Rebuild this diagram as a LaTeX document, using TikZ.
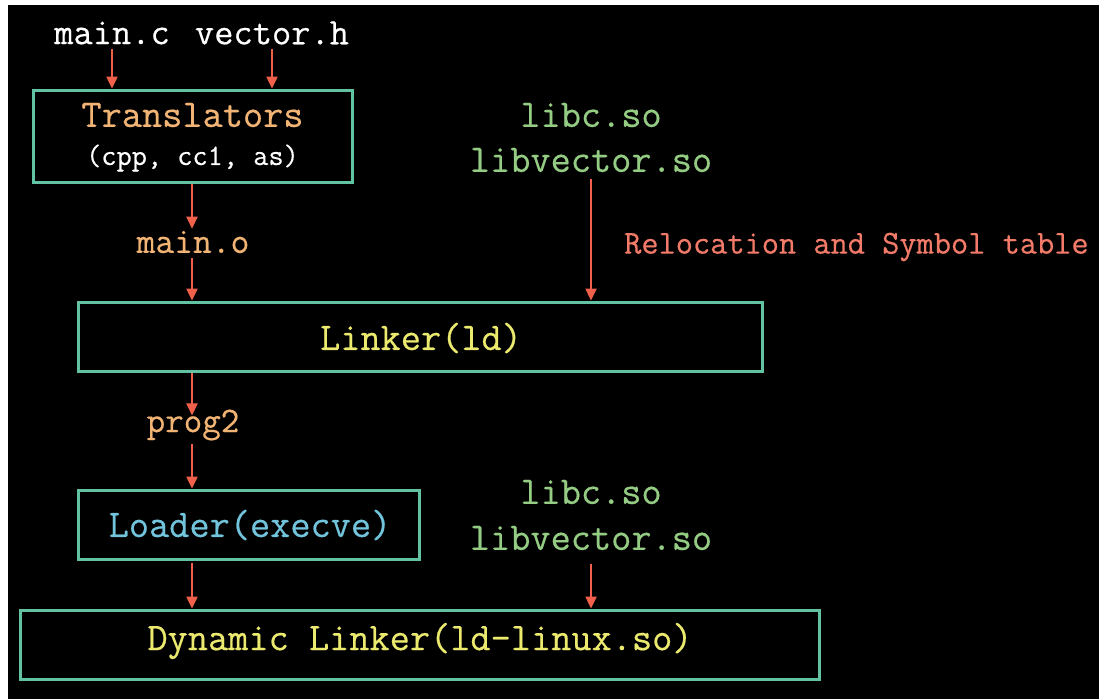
\documentclass[tikz,border=0pt]{standalone}
\usepackage{fontspec}
\usetikzlibrary{arrows.meta}
\newfontfamily\slabmono[FakeBold=0.45]{Latin Modern Mono}
\definecolor{boxline}{HTML}{62C2A4}
\definecolor{arrowred}{HTML}{F0604A}
\definecolor{txtorange}{HTML}{F2B474}
\definecolor{txtgreen}{HTML}{94CC84}
\definecolor{txtyellow}{HTML}{ECEA6E}
\definecolor{txtblue}{HTML}{72C4DC}
\definecolor{txtred}{HTML}{F27A68}
\newcommand{\fs}[1]{\slabmono\fontsize{#1}{#1}\selectfont}
\tikzset{
  x=1pt, y=1pt,
  stagebox/.style={draw=boxline, line width=3pt, inner sep=0pt, fill=black},
  lbl/.style={inner sep=0pt, font=\fs{39.2}},
  flow/.style={draw=arrowred, line width=2.4pt, -{Triangle[length=12pt,width=11pt]}},
}
\begin{document}
\begin{tikzpicture}
\useasboundingbox (0,0) rectangle (1099,-699);
\fill[white] (0,0) rectangle (1099,-699);
\fill[black] (8,-5) rectangle (1099,-699);

% source files
\node[lbl, white, font=\fs{37.4}] (mainc) at (112,-33) {main.c};
\node[lbl, white, font=\fs{37.4}] (vech) at (272,-33) {vector.h};

% translators
\node[stagebox, minimum width=319pt, minimum height=92pt] (tr) at (192.5,-136) {};
\node[lbl, txtorange] (trname) at (192.5,-115) {Translators};
\node[lbl, white, font=\fs{29.5}] (trsub) at (192.5,-158) {(cpp, cc1, as)};

\node[lbl, txtorange, font=\fs{36.5}] (maino) at (193,-242) {main.o};

% shared libraries for the static link
\node[lbl, txtgreen] (libc1) at (591,-115) {libc.so};
\node[lbl, txtgreen] (libv1) at (591,-160) {libvector.so};
\node[lbl, txtred, font=\fs{33.4}, anchor=west] (reloc) at (624,-247) {Relocation and Symbol table};

% linker
\node[stagebox, minimum width=684pt, minimum height=69pt] (ld) at (420,-336.5) {};
\node[lbl, txtyellow] (ldname) at (421,-338) {Linker(ld)};

\node[lbl, txtorange, font=\fs{36}] (prog) at (193,-425) {prog2};

% loader
\node[stagebox, minimum width=341pt, minimum height=69pt] (loader) at (248.5,-524.5) {};
\node[lbl, txtblue] (loadername) at (250,-525) {Loader(execve)};

\node[lbl, txtgreen] (libc2) at (591,-492) {libc.so};
\node[lbl, txtgreen] (libv2) at (591,-538) {libvector.so};

% dynamic linker
\node[stagebox, minimum width=799pt, minimum height=69pt] (dyn) at (419.5,-644.5) {};
\node[lbl, txtyellow] (dynname) at (420,-641) {Dynamic Linker(ld-linux.so)};

% connectors
\draw[flow] (mainc.south) ++(0,-4) coordinate (m0) -- (m0 |- tr.north);
\draw[flow] (vech.south) ++(0,-4) coordinate (v0) -- (v0 |- tr.north);
\coordinate (col) at (192,0);
\draw[flow] (col |- tr.south) -- ([yshift=2pt]col |- maino.north);
\draw[flow] ([yshift=-5pt]col |- maino.south) -- (col |- ld.north);
\draw[flow] ([yshift=-7pt]libv1.south) -- (libv1.south |- ld.north);
\draw[flow] (col |- ld.south) -- ([yshift=-6pt]col |- prog.north);
\draw[flow] ([yshift=-3pt]col |- prog.south) -- (col |- loader.north);
\draw[flow] ([yshift=-2pt]col |- loader.south) -- (col |- dyn.north);
\draw[flow] ([yshift=-14pt]libv2.south) -- (libv2.south |- dyn.north);
\end{tikzpicture}
\end{document}
